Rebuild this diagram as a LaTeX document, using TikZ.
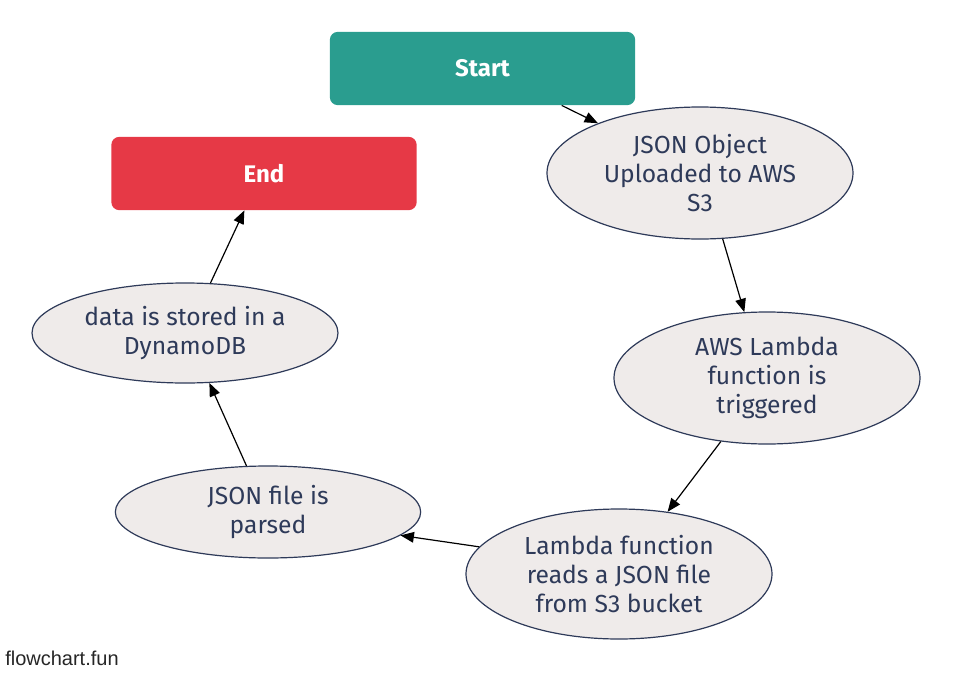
\documentclass[tikz,border=0pt]{standalone}
\usepackage{fontspec}
\setmainfont{Fira Sans}
\newfontfamily\wmfont{Liberation Sans}
\usetikzlibrary{shapes.geometric,arrows.meta}
\definecolor{startc}{HTML}{2A9D8F}
\definecolor{endc}{HTML}{E63946}
\definecolor{ellfill}{HTML}{EFEBEA}
\definecolor{ink}{HTML}{2E3A59}
\tikzset{
  term/.style={rectangle, rounded corners=6pt, minimum width=229pt, minimum height=55pt, inner sep=0pt, text=white, font=\fontsize{18}{21.75}\selectfont\bfseries},
  oval/.style={ellipse, draw=ink, line width=0.9pt, fill=ellfill, text=ink, inner sep=0pt, align=center, font=\fontsize{18.5}{21.75}\selectfont},
  conn/.style={draw=black, line width=0.9pt, -{Triangle[length=10pt,width=8pt]}}
}
\begin{document}
\begin{tikzpicture}[x=0.75pt,y=-0.75pt]
\useasboundingbox (0,0) rectangle (954,675);
\node[term, fill=startc] (start) at (482.5,68.5) {Start};
\node[term, fill=endc] (end) at (264,173.5) {End};
\node[oval, minimum width=229.5pt, minimum height=99pt] (e1) at (700,173) {JSON Object\\Uploaded to AWS\\S3};
\node[oval, minimum width=229.5pt, minimum height=99pt] (e2) at (767,378) {AWS Lambda\\function is\\triggered};
\node[oval, minimum width=229.5pt, minimum height=97.5pt] (e3) at (619,574) {Lambda function\\reads a JSON file\\from S3 bucket};
\node[oval, minimum width=229pt, minimum height=69pt] (e4) at (268,512) {JSON file is\\parsed};
\node[oval, minimum width=229.5pt, minimum height=75pt] (e5) at (185,333) {data is stored in a\\DynamoDB};
\node[anchor=base west, inner sep=0pt, font=\wmfont\fontsize{15}{18}\selectfont, text=black!85] (wm) at (5,665) {flowchart.fun};
\draw[conn] (start.-25.2) -- (e1.154.1);
\draw[conn] (e1.-71.8) -- (e2.109.2);
\draw[conn] (e2.-126.4) -- (e3.52.6);
\draw[conn] (e3.169.7) -- (e4.-10.3);
\draw[conn] (e4.115.6) -- (e5.-64.7);
\draw[conn] (e5.63) -- (end.-118);
\end{tikzpicture}
\end{document}
